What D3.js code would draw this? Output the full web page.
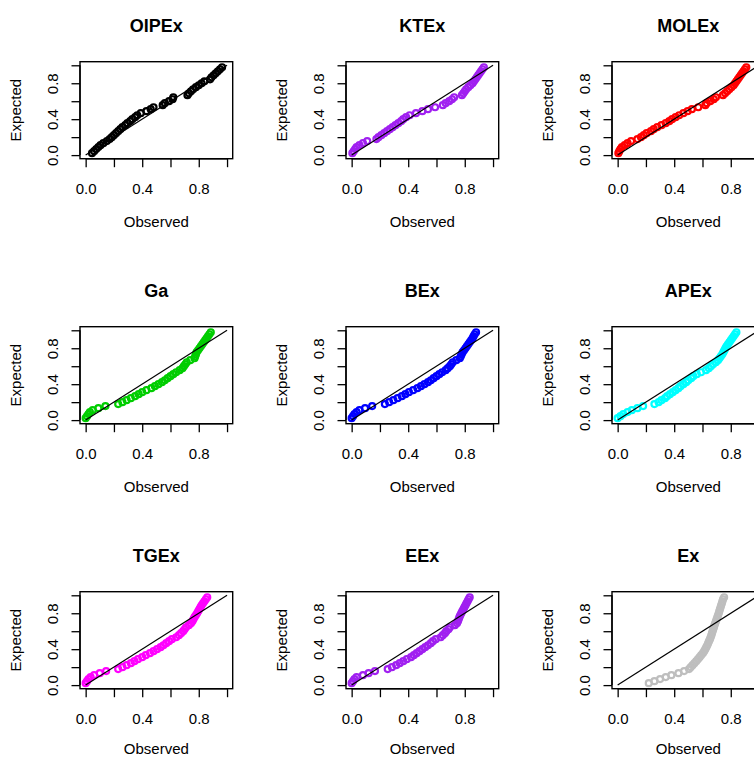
<!DOCTYPE html>
<html><head><meta charset="utf-8">
<script src="https://cdn.jsdelivr.net/npm/d3@7/dist/d3.min.js"></script>
<style>
body{margin:0;background:#fff}
svg{display:block}
text{font-family:"Liberation Sans",Arial,Helvetica,sans-serif;fill:#000}
</style>
</head><body>
<svg id="chart" width="754" height="758"></svg>
<script>
// ---------- data ----------
const titles = ["OIPEx","KTEx","MOLEx","Ga","BEx","APEx","TGEx","EEx","Ex"];
const colors = ["#000000","#A020F0","#FF0000","#00CD00","#0000FF","#00FFFF","#FF00FF","#A020F0","#BEBEBE"];
const tickValues = [0,0.2,0.4,0.6,0.8,1.0];
const tickLabels = ["0.0","","0.4","","0.8",""];
const xLabel = "Observed";
const yLabel = "Expected";

const expected = [0.022,0.044,0.067,0.089,0.111,0.133,0.156,0.178,0.200,0.222,0.244,0.267,0.289,0.311,0.333,0.356,0.378,0.400,0.422,0.444,0.467,0.489,0.511,0.533,0.556,0.578,0.600,0.622,0.644,0.667,0.689,0.711,0.733,0.756,0.778,0.800,0.822,0.844,0.867,0.889,0.911,0.933,0.956,0.978];

const obsOIPEx = [0.045,0.06,0.075,0.09,0.105,0.125,0.15,0.17,0.185,0.20,0.215,0.23,0.245,0.26,0.28,0.295,0.315,0.33,0.35,0.365,0.39,0.43,0.46,0.48,0.545,0.56,0.59,0.615,0.62,0.72,0.73,0.745,0.76,0.78,0.80,0.82,0.84,0.88,0.89,0.905,0.92,0.935,0.95,0.965];
const obsKTEx = [0.005,0.015,0.025,0.035,0.055,0.08,0.11,0.175,0.19,0.21,0.23,0.25,0.27,0.29,0.31,0.33,0.35,0.365,0.385,0.41,0.455,0.50,0.54,0.59,0.645,0.665,0.69,0.71,0.725,0.78,0.79,0.80,0.81,0.825,0.84,0.855,0.865,0.875,0.885,0.895,0.905,0.915,0.925,0.935];
const obsMOLEx = [0.005,0.012,0.02,0.03,0.05,0.07,0.095,0.14,0.165,0.185,0.205,0.235,0.255,0.28,0.31,0.34,0.365,0.385,0.41,0.435,0.465,0.495,0.525,0.57,0.62,0.63,0.655,0.68,0.695,0.745,0.76,0.775,0.79,0.805,0.82,0.83,0.84,0.85,0.86,0.87,0.88,0.89,0.90,0.91];
const obsGa = [0.00,0.01,0.02,0.03,0.05,0.09,0.14,0.23,0.26,0.29,0.32,0.35,0.375,0.40,0.43,0.465,0.49,0.515,0.54,0.56,0.58,0.60,0.62,0.64,0.665,0.685,0.695,0.705,0.715,0.74,0.77,0.775,0.78,0.785,0.795,0.805,0.815,0.825,0.835,0.845,0.855,0.865,0.875,0.885];
const obsBEx = [0.00,0.01,0.02,0.035,0.055,0.095,0.145,0.235,0.265,0.295,0.325,0.355,0.38,0.405,0.435,0.465,0.49,0.515,0.54,0.56,0.58,0.60,0.62,0.64,0.665,0.68,0.695,0.705,0.715,0.74,0.765,0.772,0.778,0.785,0.795,0.805,0.815,0.825,0.835,0.845,0.855,0.862,0.87,0.88];
const obsAPEx = [0.00,0.02,0.04,0.07,0.10,0.14,0.18,0.26,0.29,0.31,0.335,0.35,0.37,0.39,0.41,0.43,0.445,0.465,0.485,0.50,0.52,0.535,0.56,0.59,0.625,0.645,0.66,0.675,0.695,0.71,0.72,0.73,0.74,0.748,0.755,0.762,0.77,0.78,0.79,0.80,0.81,0.82,0.83,0.84];
const obsTGEx = [0.00,0.01,0.02,0.035,0.06,0.10,0.145,0.23,0.26,0.29,0.32,0.345,0.37,0.40,0.425,0.455,0.48,0.505,0.53,0.55,0.57,0.59,0.61,0.64,0.66,0.675,0.69,0.70,0.71,0.73,0.745,0.755,0.762,0.770,0.779,0.788,0.796,0.804,0.812,0.82,0.83,0.84,0.85,0.86];
const obsEEx = [0.00,0.01,0.02,0.035,0.08,0.12,0.165,0.255,0.285,0.315,0.34,0.365,0.39,0.42,0.44,0.46,0.48,0.50,0.52,0.54,0.56,0.575,0.595,0.63,0.645,0.66,0.67,0.685,0.695,0.73,0.745,0.752,0.757,0.762,0.768,0.775,0.782,0.79,0.797,0.805,0.812,0.82,0.827,0.835];
const obsEx = [0.22,0.26,0.30,0.34,0.38,0.43,0.47,0.505,0.517,0.53,0.543,0.556,0.568,0.58,0.591,0.603,0.612,0.62,0.627,0.634,0.64,0.646,0.653,0.658,0.663,0.667,0.672,0.676,0.681,0.685,0.69,0.695,0.70,0.705,0.71,0.715,0.719,0.723,0.728,0.732,0.737,0.741,0.745,0.753];

const observed = [obsOIPEx,obsKTEx,obsMOLEx,obsGa,obsBEx,obsAPEx,obsTGEx,obsEEx,obsEx];

// ---------- layout ----------
const svg = d3.select("#chart");
const colStep = 266, rowStep = 265;
const boxL0 = 80, boxT0 = 61.7, boxW = 152.7, boxH = 97;
const tick = 8.5;

titles.forEach((title, k) => {
  const c = k % 3, r = Math.floor(k / 3);
  const L = boxL0 + c * colStep, T = boxT0 + r * rowStep;
  const x = d3.scaleLinear().domain([-0.04, 1.04]).range([L, L + boxW]);
  const y = d3.scaleLinear().domain([-0.04, 1.04]).range([T + boxH, T]);
  const g = svg.append("g");

  const clipId = "clip" + k;
  svg.append("clipPath").attr("id", clipId).append("rect")
    .attr("x", L).attr("y", T).attr("width", boxW).attr("height", boxH);

  // points
  g.append("g").attr("clip-path", `url(#${clipId})`)
    .selectAll("circle").data(observed[k].map((o, i) => [o, expected[i]]))
    .join("circle")
    .attr("cx", d => x(d[0])).attr("cy", d => y(d[1]))
    .attr("r", 3.0).attr("fill", "none")
    .attr("stroke", colors[k]).attr("stroke-width", 2.2);

  // reference line
  g.append("line").attr("clip-path", `url(#${clipId})`)
    .attr("x1", x(0)).attr("y1", y(0)).attr("x2", x(1)).attr("y2", y(1))
    .attr("stroke", "#000").attr("stroke-width", 1.2);

  // box
  g.append("rect").attr("x", L).attr("y", T).attr("width", boxW).attr("height", boxH)
    .attr("fill", "none").attr("stroke", "#000").attr("stroke-width", 1.4);

  // x axis
  const xa = g.append("g").attr("transform", `translate(0,${T + boxH})`)
    .call(d3.axisBottom(x).tickValues(tickValues).tickSize(tick).tickSizeOuter(0)
      .tickFormat((d, i) => tickLabels[i]));
  xa.select(".domain").remove();
  xa.append("line").attr("x1", x(0)).attr("x2", x(1)).attr("stroke", "#000").attr("stroke-width", 1.4);
  xa.selectAll(".tick line").attr("stroke-width", 1.3);
  xa.selectAll(".tick text").attr("y", 35).attr("dy", null)
    .attr("font-size", 15).attr("font-family", null);

  // y axis
  const ya = g.append("g").attr("transform", `translate(${L},0)`)
    .call(d3.axisLeft(y).tickValues(tickValues).tickSize(tick).tickSizeOuter(0)
      .tickFormat((d, i) => tickLabels[i]));
  ya.select(".domain").remove();
  ya.append("line").attr("y1", y(0)).attr("y2", y(1)).attr("stroke", "#000").attr("stroke-width", 1.4);
  ya.selectAll(".tick line").attr("stroke-width", 1.3);
  ya.selectAll(".tick text").attr("x", null).attr("dy", null)
    .attr("text-anchor", "middle").attr("font-size", 15).attr("font-family", null)
    .attr("transform", "translate(-21.7,0) rotate(-90)");

  // title
  g.append("text").attr("x", L + boxW / 2).attr("y", T - 30)
    .attr("text-anchor", "middle").attr("font-weight", "bold").attr("font-size", 18)
    .text(title);

  // axis labels
  g.append("text").attr("x", L + boxW / 2).attr("y", Math.min(T + boxH + 68, 753.5))
    .attr("text-anchor", "middle").attr("font-size", 15).text(xLabel);
  g.append("text").attr("transform", `translate(${L - 59},${T + boxH / 2}) rotate(-90)`)
    .attr("text-anchor", "middle").attr("font-size", 15).text(yLabel);
});
</script>
</body></html>
